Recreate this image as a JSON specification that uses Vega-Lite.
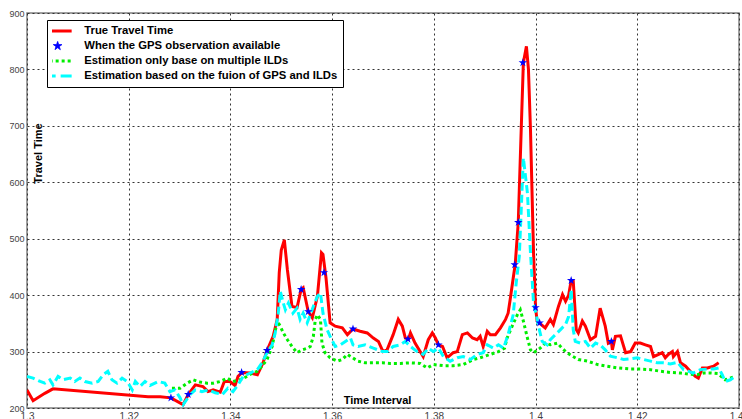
{
  "$schema": "https://vega.github.io/schema/vega-lite/v6.json",
  "width": 712,
  "height": 395,
  "autosize": {"type": "none"},
  "padding": {"left": 27, "top": 13, "right": 3, "bottom": 11},
  "background": "white",
  "config": {
    "view": {"stroke": "#808080", "strokeWidth": 1.5}
  },
  "data": {"values": [
    {"s":"true","x":1.3000,"y":232},{"s":"true","x":1.3012,"y":213},{"s":"true","x":1.3035,"y":226},{"s":"true","x":1.3051,"y":234},{"s":"true","x":1.3238,"y":220},{"s":"true","x":1.3262,"y":220},{"s":"true","x":1.3283,"y":218},{"s":"true","x":1.3307,"y":206},{"s":"true","x":1.3317,"y":224},{"s":"true","x":1.3331,"y":241},{"s":"true","x":1.3346,"y":238},{"s":"true","x":1.3356,"y":229},{"s":"true","x":1.3366,"y":232},{"s":"true","x":1.3380,"y":228},{"s":"true","x":1.3388,"y":247},{"s":"true","x":1.3399,"y":247},{"s":"true","x":1.3409,"y":240},{"s":"true","x":1.3415,"y":256},{"s":"true","x":1.3423,"y":263},{"s":"true","x":1.3439,"y":262},{"s":"true","x":1.3453,"y":259},{"s":"true","x":1.3464,"y":280},{"s":"true","x":1.3472,"y":302},{"s":"true","x":1.3484,"y":327},{"s":"true","x":1.3492,"y":357},{"s":"true","x":1.3496,"y":440},{"s":"true","x":1.3500,"y":480},{"s":"true","x":1.3506,"y":498},{"s":"true","x":1.3512,"y":445},{"s":"true","x":1.3521,"y":380},{"s":"true","x":1.3531,"y":378},{"s":"true","x":1.3539,"y":410},{"s":"true","x":1.3543,"y":413},{"s":"true","x":1.3553,"y":371},{"s":"true","x":1.3561,"y":360},{"s":"true","x":1.3571,"y":398},{"s":"true","x":1.3579,"y":475},{"s":"true","x":1.3582,"y":472},{"s":"true","x":1.3588,"y":430},{"s":"true","x":1.3596,"y":351},{"s":"true","x":1.3606,"y":345},{"s":"true","x":1.3620,"y":342},{"s":"true","x":1.3630,"y":330},{"s":"true","x":1.3641,"y":340},{"s":"true","x":1.3655,"y":336},{"s":"true","x":1.3669,"y":333},{"s":"true","x":1.3681,"y":324},{"s":"true","x":1.3691,"y":318},{"s":"true","x":1.3700,"y":300},{"s":"true","x":1.3708,"y":303},{"s":"true","x":1.3720,"y":330},{"s":"true","x":1.3730,"y":357},{"s":"true","x":1.3738,"y":345},{"s":"true","x":1.3744,"y":324},{"s":"true","x":1.3750,"y":322},{"s":"true","x":1.3754,"y":333},{"s":"true","x":1.3763,"y":315},{"s":"true","x":1.3773,"y":300},{"s":"true","x":1.3779,"y":291},{"s":"true","x":1.3789,"y":321},{"s":"true","x":1.3797,"y":333},{"s":"true","x":1.3803,"y":324},{"s":"true","x":1.3809,"y":312},{"s":"true","x":1.3817,"y":309},{"s":"true","x":1.3826,"y":289},{"s":"true","x":1.3838,"y":298},{"s":"true","x":1.3846,"y":300},{"s":"true","x":1.3856,"y":330},{"s":"true","x":1.3866,"y":333},{"s":"true","x":1.3876,"y":324},{"s":"true","x":1.3885,"y":321},{"s":"true","x":1.3891,"y":327},{"s":"true","x":1.3897,"y":309},{"s":"true","x":1.3905,"y":336},{"s":"true","x":1.3911,"y":330},{"s":"true","x":1.3921,"y":330},{"s":"true","x":1.3931,"y":342},{"s":"true","x":1.3941,"y":357},{"s":"true","x":1.3946,"y":368},{"s":"true","x":1.3950,"y":392},{"s":"true","x":1.3956,"y":430},{"s":"true","x":1.3960,"y":455},{"s":"true","x":1.3966,"y":529},{"s":"true","x":1.3972,"y":700},{"s":"true","x":1.3976,"y":812},{"s":"true","x":1.3982,"y":841},{"s":"true","x":1.3986,"y":800},{"s":"true","x":1.3990,"y":693},{"s":"true","x":1.3996,"y":475},{"s":"true","x":1.4000,"y":378},{"s":"true","x":1.4003,"y":354},{"s":"true","x":1.4007,"y":351},{"s":"true","x":1.4019,"y":342},{"s":"true","x":1.4029,"y":357},{"s":"true","x":1.4035,"y":348},{"s":"true","x":1.4045,"y":380},{"s":"true","x":1.4053,"y":401},{"s":"true","x":1.4059,"y":389},{"s":"true","x":1.4065,"y":400},{"s":"true","x":1.4070,"y":426},{"s":"true","x":1.4074,"y":426},{"s":"true","x":1.4080,"y":339},{"s":"true","x":1.4084,"y":333},{"s":"true","x":1.4092,"y":354},{"s":"true","x":1.4098,"y":345},{"s":"true","x":1.4108,"y":321},{"s":"true","x":1.4118,"y":327},{"s":"true","x":1.4127,"y":377},{"s":"true","x":1.4137,"y":345},{"s":"true","x":1.4143,"y":315},{"s":"true","x":1.4149,"y":318},{"s":"true","x":1.4151,"y":303},{"s":"true","x":1.4157,"y":327},{"s":"true","x":1.4167,"y":328},{"s":"true","x":1.4177,"y":298},{"s":"true","x":1.4187,"y":300},{"s":"true","x":1.4196,"y":315},{"s":"true","x":1.4206,"y":315},{"s":"true","x":1.4216,"y":312},{"s":"true","x":1.4226,"y":309},{"s":"true","x":1.4232,"y":291},{"s":"true","x":1.4242,"y":295},{"s":"true","x":1.4249,"y":298},{"s":"true","x":1.4255,"y":289},{"s":"true","x":1.4261,"y":295},{"s":"true","x":1.4269,"y":300},{"s":"true","x":1.4271,"y":291},{"s":"true","x":1.4279,"y":300},{"s":"true","x":1.4285,"y":280},{"s":"true","x":1.4295,"y":274},{"s":"true","x":1.4304,"y":265},{"s":"true","x":1.4314,"y":256},{"s":"true","x":1.4320,"y":253},{"s":"true","x":1.4328,"y":271},{"s":"true","x":1.4338,"y":271},{"s":"true","x":1.4350,"y":274},{"s":"true","x":1.4360,"y":280},
    {"s":"fusion","x":1.3000,"y":256},{"s":"fusion","x":1.3012,"y":253},{"s":"fusion","x":1.3026,"y":247},{"s":"fusion","x":1.3035,"y":244},{"s":"fusion","x":1.3045,"y":250},{"s":"fusion","x":1.3051,"y":241},{"s":"fusion","x":1.3061,"y":256},{"s":"fusion","x":1.3071,"y":250},{"s":"fusion","x":1.3085,"y":253},{"s":"fusion","x":1.3094,"y":247},{"s":"fusion","x":1.3104,"y":253},{"s":"fusion","x":1.3114,"y":247},{"s":"fusion","x":1.3128,"y":244},{"s":"fusion","x":1.3140,"y":247},{"s":"fusion","x":1.3150,"y":259},{"s":"fusion","x":1.3159,"y":265},{"s":"fusion","x":1.3167,"y":250},{"s":"fusion","x":1.3177,"y":244},{"s":"fusion","x":1.3187,"y":253},{"s":"fusion","x":1.3197,"y":247},{"s":"fusion","x":1.3207,"y":232},{"s":"fusion","x":1.3213,"y":247},{"s":"fusion","x":1.3222,"y":238},{"s":"fusion","x":1.3232,"y":247},{"s":"fusion","x":1.3242,"y":240},{"s":"fusion","x":1.3258,"y":247},{"s":"fusion","x":1.3271,"y":244},{"s":"fusion","x":1.3281,"y":229},{"s":"fusion","x":1.3291,"y":232},{"s":"fusion","x":1.3301,"y":218},{"s":"fusion","x":1.3307,"y":206},{"s":"fusion","x":1.3321,"y":224},{"s":"fusion","x":1.3331,"y":232},{"s":"fusion","x":1.3344,"y":229},{"s":"fusion","x":1.3356,"y":232},{"s":"fusion","x":1.3370,"y":227},{"s":"fusion","x":1.3384,"y":224},{"s":"fusion","x":1.3395,"y":235},{"s":"fusion","x":1.3405,"y":229},{"s":"fusion","x":1.3415,"y":241},{"s":"fusion","x":1.3425,"y":256},{"s":"fusion","x":1.3439,"y":262},{"s":"fusion","x":1.3453,"y":268},{"s":"fusion","x":1.3462,"y":280},{"s":"fusion","x":1.3472,"y":298},{"s":"fusion","x":1.3482,"y":312},{"s":"fusion","x":1.3488,"y":333},{"s":"fusion","x":1.3494,"y":368},{"s":"fusion","x":1.3498,"y":407},{"s":"fusion","x":1.3504,"y":386},{"s":"fusion","x":1.3508,"y":374},{"s":"fusion","x":1.3514,"y":386},{"s":"fusion","x":1.3523,"y":368},{"s":"fusion","x":1.3531,"y":377},{"s":"fusion","x":1.3537,"y":357},{"s":"fusion","x":1.3543,"y":368},{"s":"fusion","x":1.3551,"y":351},{"s":"fusion","x":1.3557,"y":365},{"s":"fusion","x":1.3563,"y":380},{"s":"fusion","x":1.3571,"y":398},{"s":"fusion","x":1.3577,"y":404},{"s":"fusion","x":1.3582,"y":368},{"s":"fusion","x":1.3590,"y":339},{"s":"fusion","x":1.3596,"y":327},{"s":"fusion","x":1.3606,"y":309},{"s":"fusion","x":1.3616,"y":312},{"s":"fusion","x":1.3626,"y":318},{"s":"fusion","x":1.3636,"y":324},{"s":"fusion","x":1.3641,"y":312},{"s":"fusion","x":1.3651,"y":309},{"s":"fusion","x":1.3665,"y":312},{"s":"fusion","x":1.3681,"y":306},{"s":"fusion","x":1.3699,"y":300},{"s":"fusion","x":1.3708,"y":300},{"s":"fusion","x":1.3720,"y":309},{"s":"fusion","x":1.3734,"y":312},{"s":"fusion","x":1.3744,"y":318},{"s":"fusion","x":1.3754,"y":309},{"s":"fusion","x":1.3767,"y":300},{"s":"fusion","x":1.3779,"y":295},{"s":"fusion","x":1.3789,"y":306},{"s":"fusion","x":1.3799,"y":300},{"s":"fusion","x":1.3809,"y":306},{"s":"fusion","x":1.3819,"y":291},{"s":"fusion","x":1.3832,"y":283},{"s":"fusion","x":1.3846,"y":289},{"s":"fusion","x":1.3858,"y":291},{"s":"fusion","x":1.3872,"y":286},{"s":"fusion","x":1.3885,"y":295},{"s":"fusion","x":1.3897,"y":298},{"s":"fusion","x":1.3905,"y":312},{"s":"fusion","x":1.3917,"y":306},{"s":"fusion","x":1.3927,"y":312},{"s":"fusion","x":1.3937,"y":306},{"s":"fusion","x":1.3946,"y":330},{"s":"fusion","x":1.3956,"y":365},{"s":"fusion","x":1.3962,"y":422},{"s":"fusion","x":1.3968,"y":469},{"s":"fusion","x":1.3976,"y":643},{"s":"fusion","x":1.3984,"y":581},{"s":"fusion","x":1.3990,"y":475},{"s":"fusion","x":1.3996,"y":386},{"s":"fusion","x":1.4002,"y":362},{"s":"fusion","x":1.4005,"y":348},{"s":"fusion","x":1.4013,"y":318},{"s":"fusion","x":1.4023,"y":312},{"s":"fusion","x":1.4029,"y":321},{"s":"fusion","x":1.4039,"y":330},{"s":"fusion","x":1.4049,"y":339},{"s":"fusion","x":1.4059,"y":348},{"s":"fusion","x":1.4065,"y":362},{"s":"fusion","x":1.4070,"y":410},{"s":"fusion","x":1.4074,"y":339},{"s":"fusion","x":1.4078,"y":318},{"s":"fusion","x":1.4088,"y":315},{"s":"fusion","x":1.4098,"y":318},{"s":"fusion","x":1.4108,"y":306},{"s":"fusion","x":1.4118,"y":315},{"s":"fusion","x":1.4127,"y":312},{"s":"fusion","x":1.4137,"y":303},{"s":"fusion","x":1.4147,"y":292},{"s":"fusion","x":1.4161,"y":289},{"s":"fusion","x":1.4173,"y":286},{"s":"fusion","x":1.4187,"y":287},{"s":"fusion","x":1.4200,"y":289},{"s":"fusion","x":1.4212,"y":286},{"s":"fusion","x":1.4226,"y":283},{"s":"fusion","x":1.4240,"y":280},{"s":"fusion","x":1.4251,"y":280},{"s":"fusion","x":1.4265,"y":278},{"s":"fusion","x":1.4279,"y":281},{"s":"fusion","x":1.4291,"y":268},{"s":"fusion","x":1.4301,"y":265},{"s":"fusion","x":1.4310,"y":262},{"s":"fusion","x":1.4324,"y":268},{"s":"fusion","x":1.4338,"y":269},{"s":"fusion","x":1.4350,"y":269},{"s":"fusion","x":1.4360,"y":271},{"s":"fusion","x":1.4367,"y":259},{"s":"fusion","x":1.4373,"y":247},{"s":"fusion","x":1.4383,"y":250},{"s":"fusion","x":1.4393,"y":256},
    {"s":"ild","x":1.3285,"y":235},{"s":"ild","x":1.3301,"y":235},{"s":"ild","x":1.3315,"y":244},{"s":"ild","x":1.3327,"y":250},{"s":"ild","x":1.3340,"y":246},{"s":"ild","x":1.3354,"y":244},{"s":"ild","x":1.3366,"y":244},{"s":"ild","x":1.3380,"y":247},{"s":"ild","x":1.3394,"y":253},{"s":"ild","x":1.3405,"y":247},{"s":"ild","x":1.3419,"y":250},{"s":"ild","x":1.3433,"y":256},{"s":"ild","x":1.3443,"y":262},{"s":"ild","x":1.3453,"y":265},{"s":"ild","x":1.3462,"y":274},{"s":"ild","x":1.3472,"y":286},{"s":"ild","x":1.3482,"y":309},{"s":"ild","x":1.3490,"y":345},{"s":"ild","x":1.3492,"y":354},{"s":"ild","x":1.3498,"y":345},{"s":"ild","x":1.3504,"y":333},{"s":"ild","x":1.3512,"y":321},{"s":"ild","x":1.3521,"y":309},{"s":"ild","x":1.3531,"y":298},{"s":"ild","x":1.3541,"y":303},{"s":"ild","x":1.3551,"y":306},{"s":"ild","x":1.3557,"y":309},{"s":"ild","x":1.3563,"y":327},{"s":"ild","x":1.3567,"y":357},{"s":"ild","x":1.3571,"y":365},{"s":"ild","x":1.3577,"y":357},{"s":"ild","x":1.3580,"y":315},{"s":"ild","x":1.3586,"y":298},{"s":"ild","x":1.3596,"y":289},{"s":"ild","x":1.3610,"y":283},{"s":"ild","x":1.3620,"y":286},{"s":"ild","x":1.3630,"y":295},{"s":"ild","x":1.3640,"y":289},{"s":"ild","x":1.3651,"y":283},{"s":"ild","x":1.3665,"y":280},{"s":"ild","x":1.3681,"y":280},{"s":"ild","x":1.3699,"y":280},{"s":"ild","x":1.3714,"y":279},{"s":"ild","x":1.3734,"y":279},{"s":"ild","x":1.3754,"y":280},{"s":"ild","x":1.3773,"y":279},{"s":"ild","x":1.3787,"y":271},{"s":"ild","x":1.3799,"y":277},{"s":"ild","x":1.3819,"y":275},{"s":"ild","x":1.3838,"y":275},{"s":"ild","x":1.3858,"y":277},{"s":"ild","x":1.3878,"y":286},{"s":"ild","x":1.3891,"y":289},{"s":"ild","x":1.3911,"y":295},{"s":"ild","x":1.3927,"y":300},{"s":"ild","x":1.3939,"y":306},{"s":"ild","x":1.3944,"y":324},{"s":"ild","x":1.3954,"y":345},{"s":"ild","x":1.3964,"y":365},{"s":"ild","x":1.3970,"y":374},{"s":"ild","x":1.3976,"y":354},{"s":"ild","x":1.3984,"y":324},{"s":"ild","x":1.3990,"y":303},{"s":"ild","x":1.3996,"y":298},{"s":"ild","x":1.4009,"y":306},{"s":"ild","x":1.4019,"y":315},{"s":"ild","x":1.4029,"y":312},{"s":"ild","x":1.4043,"y":315},{"s":"ild","x":1.4049,"y":309},{"s":"ild","x":1.4059,"y":300},{"s":"ild","x":1.4072,"y":292},{"s":"ild","x":1.4084,"y":286},{"s":"ild","x":1.4102,"y":283},{"s":"ild","x":1.4122,"y":277},{"s":"ild","x":1.4141,"y":274},{"s":"ild","x":1.4161,"y":271},{"s":"ild","x":1.4187,"y":269},{"s":"ild","x":1.4206,"y":269},{"s":"ild","x":1.4226,"y":268},{"s":"ild","x":1.4246,"y":265},{"s":"ild","x":1.4265,"y":263},{"s":"ild","x":1.4285,"y":262},{"s":"ild","x":1.4301,"y":260},{"s":"ild","x":1.4318,"y":259},{"s":"ild","x":1.4330,"y":262},{"s":"ild","x":1.4344,"y":262},{"s":"ild","x":1.4358,"y":261},{"s":"ild","x":1.4373,"y":250},{"s":"ild","x":1.4389,"y":255},
    {"s":"gps","x":1.3283,"y":218},{"s":"gps","x":1.3317,"y":224},{"s":"gps","x":1.3422,"y":263},{"s":"gps","x":1.3472,"y":302},{"s":"gps","x":1.3539,"y":410},{"s":"gps","x":1.3553,"y":371},{"s":"gps","x":1.3584,"y":440},{"s":"gps","x":1.3641,"y":340},{"s":"gps","x":1.3749,"y":322},{"s":"gps","x":1.3809,"y":312},{"s":"gps","x":1.3959,"y":454},{"s":"gps","x":1.3966,"y":529},{"s":"gps","x":1.3975,"y":812},{"s":"gps","x":1.4000,"y":378},{"s":"gps","x":1.4008,"y":351},{"s":"gps","x":1.4070,"y":426},{"s":"gps","x":1.4149,"y":318}
  ]},
  "encoding": {
    "x": {
      "field": "x", "type": "quantitative",
      "scale": {"domain": [1.3, 1.44], "nice": false, "zero": false},
      "axis": {
        "title": "Time Interval",
        "values": [1.3, 1.32, 1.34, 1.36, 1.38, 1.4, 1.42, 1.44],
        "labelExpr": "format(datum.value, '.2~f')",
        "grid": true, "gridColor": "#333333", "gridDash": [2, 3], "gridOpacity": 1,
        "ticks": false, "domain": false,
        "labelFontSize": 10, "labelColor": "#444444", "labelPadding": 3, "labelFont": "Liberation Sans",
        "labelFlush": false, "labelOverlap": false, "labelBound": false,
        "titleFont": "Liberation Sans", "titleFontSize": 11, "titleFontWeight": "bold", "titleColor": "black",
        "titleX": 350, "titleY": -8, "titleBaseline": "middle", "titleAlign": "center"
      }
    },
    "y": {
      "field": "y", "type": "quantitative",
      "scale": {"domain": [200, 900], "nice": false, "zero": false},
      "axis": {
        "title": "Travel Time",
        "values": [200, 300, 400, 500, 600, 700, 800, 900],
        "grid": true, "gridColor": "#333333", "gridDash": [2, 3], "gridOpacity": 1,
        "ticks": false, "domain": false,
        "labelFontSize": 9, "labelColor": "#444444", "labelPadding": 3, "labelFont": "Liberation Sans",
        "labelOverlap": false, "labelFlush": false,
        "titleFont": "Liberation Sans", "titleFontSize": 11, "titleFontWeight": "bold", "titleColor": "black",
        "titleAngle": -90, "titleX": 11, "titleY": 140, "titleBaseline": "middle", "titleAlign": "center"
      }
    },
    "color": {
      "field": "s", "type": "nominal",
      "scale": {"domain": ["true", "gps", "ild", "fusion"], "range": ["#ff0000", "#0000ff", "#00ee00", "#00ffff"]},
      "legend": {
        "orient": "none", "legendX": 20, "legendY": 7, "title": null, "direction": "vertical",
        "padding": 5, "strokeColor": "black", "fillColor": "white", "cornerRadius": 0,
        "labelFontSize": 11.3, "labelFontWeight": "bold", "labelColor": "black", "labelFont": "Liberation Sans",
        "labelLimit": 0, "labelOffset": 21, "symbolType": "stroke", "symbolSize": 784, "symbolStrokeWidth": 3,
        "clipHeight": 12, "rowPadding": 3,
        "labelExpr": "datum.value === 'true' ? 'True Travel Time' : datum.value === 'gps' ? 'When the GPS observation available' : datum.value === 'ild' ? 'Estimation only base on multiple ILDs' : 'Estimation based on the fuion of GPS and ILDs'",
        "encode": {
          "symbols": {
            "update": {
              "shape": {"signal": "datum.value === 'gps' ? 'M0,-1L0.225,-0.309L0.951,-0.309L0.363,0.118L0.588,0.809L0,0.382L-0.588,0.809L-0.363,0.118L-0.951,-0.309L-0.225,-0.309Z' : 'stroke'"},
              "size": {"signal": "datum.value === 'gps' ? 80 : 784"},
              "strokeDash": {"signal": "datum.value === 'ild' ? [3, 3] : datum.value === 'fusion' ? [12, 5] : [1, 0]"},
              "fill": {"signal": "datum.value === 'gps' ? '#0000ff' : 'transparent'"},
              "strokeWidth": {"signal": "datum.value === 'gps' ? 1 : 3"},
              "opacity": {"value": 1}
            }
          }
        }
      }
    }
  },
  "layer": [
    {"transform": [{"filter": "datum.s === 'true'"}], "mark": {"type": "line", "strokeWidth": 3, "clip": true}, "encoding": {"detail": {"field": "s"}}},
    {"transform": [{"filter": "datum.s === 'ild'"}], "mark": {"type": "line", "strokeWidth": 3, "strokeDash": [3, 3], "clip": true}, "encoding": {"detail": {"field": "s"}}},
    {"transform": [{"filter": "datum.s === 'fusion'"}], "mark": {"type": "line", "strokeWidth": 3, "strokeDash": [8, 4], "clip": true}, "encoding": {"detail": {"field": "s"}}},
    {"transform": [{"filter": "datum.s === 'gps'"}], "mark": {"type": "point", "shape": "M0,-1L0.225,-0.309L0.951,-0.309L0.363,0.118L0.588,0.809L0,0.382L-0.588,0.809L-0.363,0.118L-0.951,-0.309L-0.225,-0.309Z", "filled": true, "size": 80, "strokeWidth": 1, "opacity": 1, "clip": true}, "encoding": {"detail": {"field": "s"}}}
  ]
}
